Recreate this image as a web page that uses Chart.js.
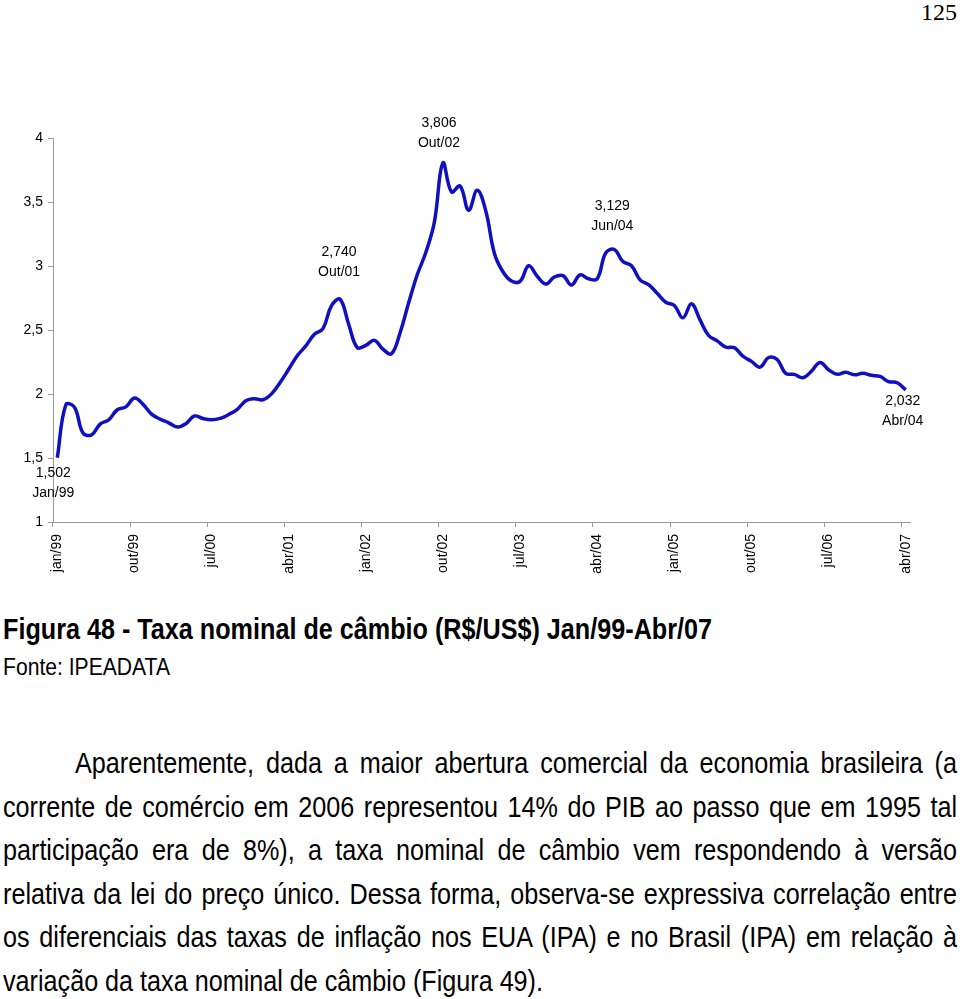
<!DOCTYPE html>
<html>
<head>
<meta charset="utf-8">
<script src="https://cdn.jsdelivr.net/npm/chart.js@4.4.0/dist/chart.umd.min.js"></script>
<style>
    body { margin: 0; background: #fff; }
    .page { position: relative; width: 960px; height: 999px; overflow: hidden; font-family: "Liberation Sans", Arial, sans-serif; color: #000; }
    .pagenum { position: absolute; right: 3px; top: -1px; font-family: "Liberation Serif", serif; font-size: 24px; }
    .chart-box { position: absolute; left: 0; top: 0; width: 960px; height: 600px; }
    .narrow { transform-origin: 0 0; }
    .caption { position: absolute; left: 3px; top: 611px; font-size: 29px; font-weight: bold; line-height: 36px; white-space: nowrap; }
    .source { position: absolute; left: 3px; top: 652px; font-size: 24px; line-height: 30px; white-space: nowrap; }
    .para { position: absolute; left: 3px; top: 742px; font-size: 29px; line-height: 43.6px; }
    .para div { text-align: justify; text-align-last: justify; white-space: nowrap; }
    .para div.first { padding-left: 88px; }
    .para div.last { text-align-last: left; }
    .para span { white-space: nowrap; }
</style>
</head>
<body>
<div class="page">
    <div class="pagenum">125</div>
    <div class="chart-box"><canvas id="cambio" width="960" height="600"></canvas></div>
    <div class="caption narrow" data-width="709"><span>Figura 48 - Taxa nominal de câmbio (R$/US$) Jan/99-Abr/07</span></div>
    <div class="source narrow" data-width="167"><span>Fonte: IPEADATA</span></div>
    <div class="para narrow" id="para">
        <div class="first">Aparentemente, dada a maior abertura comercial da economia brasileira (a</div>
        <div>corrente de comércio em 2006 representou 14% do PIB ao passo que em 1995 tal</div>
        <div>participação era de 8%), a taxa nominal de câmbio vem respondendo à versão</div>
        <div>relativa da lei do preço único. Dessa forma, observa-se expressiva correlação entre</div>
        <div>os diferenciais das taxas de inflação nos EUA (IPA) e no Brasil (IPA) em relação à</div>
        <div class="last"><span id="lastLine">variação da taxa nominal de câmbio (Figura 49).</span></div>
    </div>
</div>
<script>
    "use strict";

    // monthly names, jan/99 .. abr/07
    var monthNames = ['jan', 'fev', 'mar', 'abr', 'mai', 'jun', 'jul', 'ago', 'set', 'out', 'nov', 'dez'];
    var years = ['99', '00', '01', '02', '03', '04', '05', '06', '07'];

    // R$/US$, one value per month
    var rate1999 = [1.502, 1.916, 1.897, 1.695, 1.681, 1.765, 1.798, 1.877, 1.899, 1.969, 1.920, 1.843];
    var rate2000 = [1.804, 1.775, 1.742, 1.768, 1.828, 1.808, 1.799, 1.809, 1.840, 1.880, 1.948, 1.963];
    var rate2001 = [1.955, 2.001, 2.090, 2.193, 2.299, 2.376, 2.467, 2.511, 2.690, 2.740, 2.545, 2.363];
    var rate2002 = [2.380, 2.419, 2.350, 2.315, 2.479, 2.712, 2.932, 3.105, 3.343, 3.806, 3.578, 3.625];
    var rate2003 = [3.436, 3.591, 3.430, 3.100, 2.955, 2.883, 2.880, 3.002, 2.920, 2.859, 2.914, 2.925];
    var rate2004 = [2.852, 2.930, 2.900, 2.900, 3.102, 3.129, 3.035, 3.002, 2.892, 2.854, 2.787, 2.717];
    var rate2005 = [2.692, 2.595, 2.705, 2.579, 2.457, 2.415, 2.366, 2.362, 2.295, 2.255, 2.210, 2.285];
    var rate2006 = [2.269, 2.161, 2.153, 2.127, 2.178, 2.247, 2.189, 2.154, 2.170, 2.150, 2.162, 2.146];
    var rate2007 = [2.137, 2.097, 2.088, 2.032];

    // labels written on the x axis (every 9 months)
    var tickLabels = ['jan/99', 'out/99', 'jul/00', 'abr/01', 'jan/02', 'out/02', 'jul/03', 'abr/04', 'jan/05', 'out/05', 'jul/06', 'abr/07'];
    var yTicks = [1, 1.5, 2, 2.5, 3, 3.5, 4];

    // highlighted points: month index and the text printed under the value
    var noteIndex = [0, 33, 45, 65, 99];
    var noteMonth = ['Jan/99', 'Out/01', 'Out/02', 'Jun/04', 'Abr/04'];

    var rates = [].concat(rate1999, rate2000, rate2001, rate2002, rate2003, rate2004, rate2005, rate2006, rate2007);
    var categories = [];
    years.forEach(function (y) {
        monthNames.forEach(function (m) {
            if (categories.length < rates.length) {
                categories.push(m + '/' + y);
            }
        });
    });

    // the page text is set in a condensed face; squeeze a normal face to the same widths
    var squeeze = function () {
        document.querySelectorAll('.narrow[data-width]').forEach(function (el) {
            var natural = el.querySelector('span').getBoundingClientRect().width;
            el.style.transform = 'scaleX(' + (parseFloat(el.dataset.width) / natural) + ')';
        });
        var para = document.getElementById('para');
        var lastW = document.getElementById('lastLine').getBoundingClientRect().width;
        var k = 540 / lastW;
        para.style.width = (954 / k) + 'px';
        para.style.transform = 'scaleX(' + k + ')';
        para.querySelector('.first').style.paddingLeft = (72 / k) + 'px';
    };
    squeeze();

    var fmt = function (v, dec) {
        return v.toFixed(dec).replace('.', ',');
    };

    // offsets of the two text lines around each highlighted point
    var noteOffsets = [
        { dx: -4, dy1: 15, dy2: 35 },
        { dx: -1, dy1: -47, dy2: -27 },
        { dx: -4, dy1: -40, dy2: -20 },
        { dx: -2, dy1: -43, dy2: -23 },
        { dx: -3, dy1: 11, dy2: 31 }
    ];

    var notesPlugin = {
        id: 'notes',
        afterDatasetsDraw: function (chart) {
            var meta = chart.getDatasetMeta(0);
            var ctx = chart.ctx;
            ctx.save();
            ctx.font = '14px "Liberation Sans", Arial, sans-serif';
            ctx.fillStyle = '#000';
            ctx.textAlign = 'center';
            ctx.textBaseline = 'middle';
            noteIndex.forEach(function (idx, i) {
                var pt = meta.data[idx];
                var o = noteOffsets[i];
                ctx.fillText(fmt(rates[idx], 3), pt.x + o.dx, pt.y + o.dy1);
                ctx.fillText(noteMonth[i], pt.x + o.dx, pt.y + o.dy2);
            });
            ctx.restore();
        }
    };

    var axisGray = '#9a9a9a';
    var tickFont = { family: '"Liberation Sans", Arial, sans-serif', size: 14 };

    new Chart(document.getElementById('cambio').getContext('2d'), {
        type: 'line',
        data: {
            labels: categories,
            datasets: [{
                data: rates,
                borderColor: '#1010c0',
                borderWidth: 3.5,
                pointRadius: 0,
                tension: 0.4,
                fill: false,
                clip: false
            }]
        },
        options: {
            responsive: false,
            animation: false,
            events: [],
            layout: { padding: { left: 0, right: 50, top: 138, bottom: 0 } },
            plugins: { legend: { display: false }, tooltip: { enabled: false } },
            scales: {
                x: {
                    type: 'category',
                    offset: true,
                    afterFit: function (s) { s.height = 78; },
                    border: { color: axisGray, width: 1 },
                    grid: {
                        offset: true,
                        drawOnChartArea: false,
                        tickLength: 5,
                        color: function (c) {
                            return (c.index !== undefined && c.index % 9 === 0) ? axisGray : 'rgba(0,0,0,0)';
                        }
                    },
                    ticks: {
                        autoSkip: false,
                        maxRotation: 90,
                        minRotation: 90,
                        padding: 7,
                        color: '#000',
                        font: tickFont,
                        callback: function (v, i) {
                            return i % 9 === 0 ? tickLabels[i / 9] : '';
                        }
                    }
                },
                y: {
                    min: yTicks[0],
                    max: yTicks[yTicks.length - 1],
                    afterFit: function (s) { s.width = 53; },
                    afterBuildTicks: function (s) {
                        s.ticks = yTicks.map(function (v) { return { value: v }; });
                    },
                    border: { color: axisGray, width: 1 },
                    grid: { drawOnChartArea: false, tickLength: 5, color: axisGray },
                    ticks: {
                        padding: 5,
                        color: '#000',
                        font: tickFont,
                        callback: function (v) { return String(v).replace('.', ','); }
                    }
                }
            }
        },
        plugins: [notesPlugin]
    });
</script>
</body>
</html>
